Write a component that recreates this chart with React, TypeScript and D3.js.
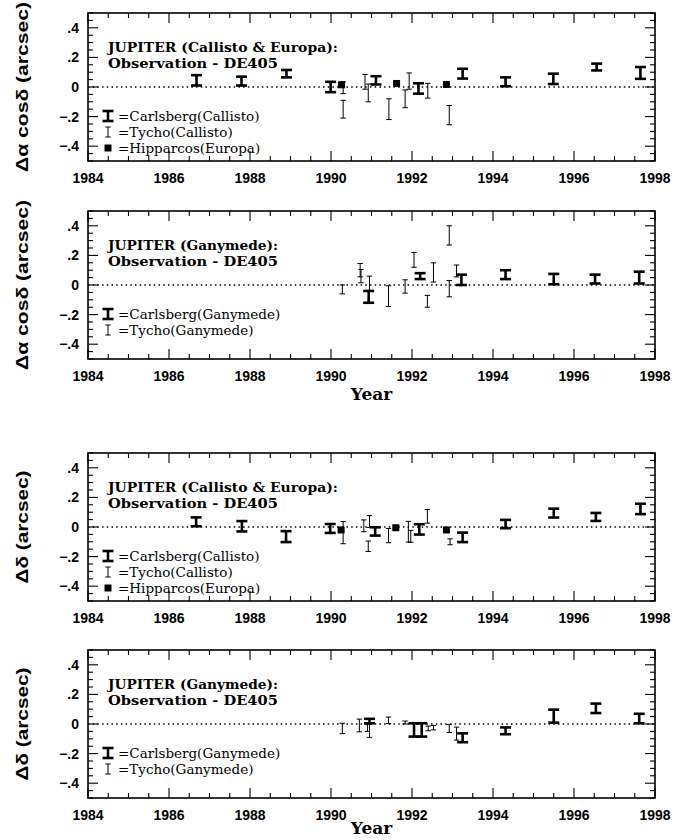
import React from "react";
import * as d3 from "d3";

// [year, value, error] in arcsec
const raCallistoCarlsberg = [
  [1986.68, 0.045, 0.035], [1987.79, 0.04, 0.03], [1988.9, 0.09, 0.025],
  [1989.99, 0.0, 0.035], [1991.11, 0.045, 0.028], [1992.16, -0.01, 0.035],
  [1993.25, 0.09, 0.033], [1994.31, 0.035, 0.03], [1995.49, 0.055, 0.035],
  [1996.56, 0.135, 0.023], [1997.64, 0.095, 0.04],
];
const raCallistoTycho = [
  [1990.3, -0.005, 0.04], [1990.3, -0.15, 0.06], [1990.84, 0.035, 0.05],
  [1990.92, -0.04, 0.06], [1991.43, -0.15, 0.07], [1991.83, -0.08, 0.06],
  [1991.93, 0.04, 0.055], [1992.39, -0.025, 0.05], [1992.92, -0.19, 0.065],
];
const raEuropaHipparcos = [[1990.26, 0.015], [1991.62, 0.024], [1992.85, 0.017]];

const raGanymedeCarlsberg = [
  [1990.93, -0.08, 0.04], [1992.2, 0.06, 0.02], [1993.22, 0.035, 0.035],
  [1994.31, 0.07, 0.03], [1995.5, 0.04, 0.035], [1996.52, 0.04, 0.03],
  [1997.61, 0.05, 0.04],
];
const raGanymedeTycho = [
  [1990.28, -0.03, 0.03], [1990.72, 0.1, 0.045], [1990.74, 0.06, 0.045],
  [1990.95, -0.03, 0.09], [1991.42, -0.075, 0.07], [1991.83, -0.01, 0.045],
  [1992.05, 0.17, 0.05], [1992.38, -0.11, 0.04], [1992.53, 0.085, 0.065],
  [1992.92, 0.335, 0.065], [1992.92, -0.025, 0.055], [1993.1, 0.095, 0.04],
];

const decCallistoCarlsberg = [
  [1986.67, 0.035, 0.03], [1987.8, 0.005, 0.035], [1988.89, -0.065, 0.037],
  [1989.98, -0.01, 0.03], [1991.09, -0.03, 0.028], [1992.18, -0.016, 0.035],
  [1993.25, -0.07, 0.032], [1994.31, 0.02, 0.028], [1995.5, 0.094, 0.03],
  [1996.54, 0.068, 0.027], [1997.64, 0.122, 0.035],
];
const decCallistoTycho = [
  [1990.3, -0.038, 0.075], [1990.81, 0.008, 0.04], [1990.95, 0.037, 0.04],
  [1990.92, -0.13, 0.035], [1991.42, -0.058, 0.048], [1991.91, -0.032, 0.07],
  [1991.97, -0.063, 0.04], [1992.38, 0.072, 0.046], [1992.94, -0.1, 0.02],
];
const decEuropaHipparcos = [[1990.25, -0.02], [1991.6, -0.005], [1992.85, -0.02]];

const decGanymedeCarlsberg = [
  [1990.95, 0.02, 0.015], [1992.05, -0.04, 0.045], [1992.24, -0.04, 0.045],
  [1993.25, -0.093, 0.03], [1994.31, -0.046, 0.023], [1995.5, 0.053, 0.044],
  [1996.54, 0.106, 0.032], [1997.61, 0.037, 0.032],
];
const decGanymedeTycho = [
  [1990.28, -0.03, 0.035], [1990.7, -0.01, 0.043], [1990.9, -0.025, 0.025],
  [1990.95, -0.04, 0.05], [1991.42, 0.025, 0.022], [1991.83, 0.01, 0.01],
  [1992.4, -0.03, 0.016], [1992.53, -0.025, 0.015], [1992.92, -0.03, 0.027],
  [1993.1, -0.065, 0.044],
];

const yearTicks = [1984, 1986, 1988, 1990, 1992, 1994, 1996, 1998];
const yTicks = [0.4, 0.2, 0, -0.2, -0.4];
const yTickLabels = [".4", ".2", "0", "\u2212.2", "\u2212.4"];

const W = 674;
const H = 840;
const left = 88;
const right = 655;
const panelH = 148;

const x = d3.scaleLinear().domain([1984, 1998]).range([left, right]);

const tickFont = "'Liberation Sans', Arial, sans-serif";
const serif = "'DejaVu Serif', serif";

function Panel({ top, title1, title2, t1Len, t2Len, yLabel, yLabelLen, carlsberg, tycho, hipparcos, legend, yearOffset }) {
  const y = d3.scaleLinear().domain([-0.5, 0.5]).range([top + panelH, top]);
  const bottom = top + panelH;
  const minorX = d3.range(1984, 1998.01, 0.5);
  const minorY = d3.range(-0.5, 0.501, 0.05).map((v) => +v.toFixed(2));
  const isMajorY = (v) => Math.abs(Math.round(v * 10) - v * 10) < 1e-6 && Math.round(v * 10) % 2 === 0 && Math.abs(v) < 0.45;
  const lx = 108;
  const legendRow = (i) => top + 103 + i * 16;

  const carlsbergBar = (cx, y1, y2, key) => (
    <g key={key} stroke="#000" strokeWidth={2.6}>
      <line x1={cx} x2={cx} y1={y1} y2={y2} />
      <line x1={cx - 5.5} x2={cx + 5.5} y1={y1} y2={y1} />
      <line x1={cx - 5.5} x2={cx + 5.5} y1={y2} y2={y2} />
    </g>
  );
  const tychoBar = (cx, y1, y2, key) => (
    <g key={key} stroke="#000" strokeWidth={1}>
      <line x1={cx} x2={cx} y1={y1} y2={y2} />
      <line x1={cx - 2.7} x2={cx + 2.7} y1={y1} y2={y1} />
      <line x1={cx - 2.7} x2={cx + 2.7} y1={y2} y2={y2} />
    </g>
  );

  return (
    <g>
      {/* zero line */}
      <line x1={left} x2={right} y1={y(0)} y2={y(0)} stroke="#000" strokeWidth={1.3} strokeDasharray="1.5,3.2" />

      {/* ticks, all four sides */}
      {minorX.map((v) => {
        const len = v % 2 === 0 ? 10 : 5;
        return (
          <g key={"tx" + v} stroke="#000" strokeWidth={1.1}>
            <line x1={x(v)} x2={x(v)} y1={bottom} y2={bottom - len} />
            <line x1={x(v)} x2={x(v)} y1={top} y2={top + len} />
          </g>
        );
      })}
      {minorY.map((v) => {
        const len = isMajorY(v) ? 10 : 5;
        return (
          <g key={"ty" + v} stroke="#000" strokeWidth={1.1}>
            <line x1={left} x2={left + len} y1={y(v)} y2={y(v)} />
            <line x1={right} x2={right - len} y1={y(v)} y2={y(v)} />
          </g>
        );
      })}
      <rect x={left} y={top} width={right - left} height={panelH} fill="none" stroke="#000" strokeWidth={1.6} />

      {yTicks.map((v, i) => (
        <text key={"yl" + v} x={79} y={y(v) + 5} textAnchor="end" fontFamily={tickFont} fontWeight="bold" fontSize={14}>
          {yTickLabels[i]}
        </text>
      ))}
      {yearTicks.map((v) => (
        <text key={"xl" + v} x={x(v)} y={bottom + 22} textAnchor="middle" fontFamily={tickFont} fontWeight="bold" fontSize={14}>
          {v}
        </text>
      ))}

      <text
        transform={`translate(28,${(top + bottom) / 2}) rotate(-90)`}
        textAnchor="middle"
        fontFamily={tickFont}
        fontWeight="bold"
        fontSize={16}
        textLength={yLabelLen}
        lengthAdjust="spacingAndGlyphs"
      >
        {yLabel}
      </text>
      {yearOffset && (
        <text x={(left + right) / 2} y={bottom + yearOffset} textAnchor="middle" fontFamily={serif} fontWeight="bold" fontSize={17}>
          Year
        </text>
      )}

      <text x={108} y={top + 39} fontFamily={serif} fontWeight="bold" fontSize={13} textLength={t1Len} lengthAdjust="spacingAndGlyphs">
        {title1}
      </text>
      <text x={108} y={top + 55} fontFamily={serif} fontWeight="bold" fontSize={13} textLength={t2Len} lengthAdjust="spacingAndGlyphs">
        {title2}
      </text>

      {/* data */}
      {tycho.map((d, i) => tychoBar(x(d[0]), y(d[1] + d[2]), y(d[1] - d[2]), "t" + i))}
      {carlsberg.map((d, i) => carlsbergBar(x(d[0]), y(d[1] + d[2]), y(d[1] - d[2]), "c" + i))}
      {hipparcos &&
        hipparcos.map((d, i) => (
          <rect key={"h" + i} x={x(d[0]) - 3.5} y={y(d[1]) - 3.5} width={7} height={7} fill="#000" />
        ))}

      {/* legend */}
      {carlsbergBar(lx, legendRow(0) - 5, legendRow(0) + 5, "lc")}
      {tychoBar(lx, legendRow(1) - 5, legendRow(1) + 5, "lt")}
      {hipparcos && <rect x={lx - 3.5} y={legendRow(2) - 3.5} width={7} height={7} fill="#000" />}
      {legend.map((s, i) => (
        <text key={"lg" + i} x={118} y={legendRow(i) + 5} fontFamily={serif} fontSize={13.5}>
          {s}
        </text>
      ))}
    </g>
  );
}

export default function App() {
  return (
    <svg width={W} height={H} style={{ position: "absolute", left: 0, top: 0, background: "#fff" }}>
      <rect width={W} height={H} fill="#fff" />
      <Panel
        top={13}
        title1="JUPITER (Callisto & Europa):"
        title2="Observation - DE405"
        t1Len={230}
        t2Len={170}
        yLabel="Δα cosδ (arcsec)"
        yLabelLen={170}
        carlsberg={raCallistoCarlsberg}
        tycho={raCallistoTycho}
        hipparcos={raEuropaHipparcos}
        legend={["=Carlsberg(Callisto)", "=Tycho(Callisto)", "=Hipparcos(Europa)"]}
        yearOffset={0}
      />
      <Panel
        top={211}
        title1="JUPITER (Ganymede):"
        title2="Observation - DE405"
        t1Len={170}
        t2Len={170}
        yLabel="Δα cosδ (arcsec)"
        yLabelLen={170}
        carlsberg={raGanymedeCarlsberg}
        tycho={raGanymedeTycho}
        hipparcos={null}
        legend={["=Carlsberg(Ganymede)", "=Tycho(Ganymede)"]}
        yearOffset={41}
      />
      <Panel
        top={453}
        title1="JUPITER (Callisto & Europa):"
        title2="Observation - DE405"
        t1Len={230}
        t2Len={170}
        yLabel="Δδ (arcsec)"
        yLabelLen={113}
        carlsberg={decCallistoCarlsberg}
        tycho={decCallistoTycho}
        hipparcos={decEuropaHipparcos}
        legend={["=Carlsberg(Callisto)", "=Tycho(Callisto)", "=Hipparcos(Europa)"]}
        yearOffset={0}
      />
      <Panel
        top={650}
        title1="JUPITER (Ganymede):"
        title2="Observation - DE405"
        t1Len={170}
        t2Len={170}
        yLabel="Δδ (arcsec)"
        yLabelLen={113}
        carlsberg={decGanymedeCarlsberg}
        tycho={decGanymedeTycho}
        hipparcos={null}
        legend={["=Carlsberg(Ganymede)", "=Tycho(Ganymede)"]}
        yearOffset={36}
      />
    </svg>
  );
}
